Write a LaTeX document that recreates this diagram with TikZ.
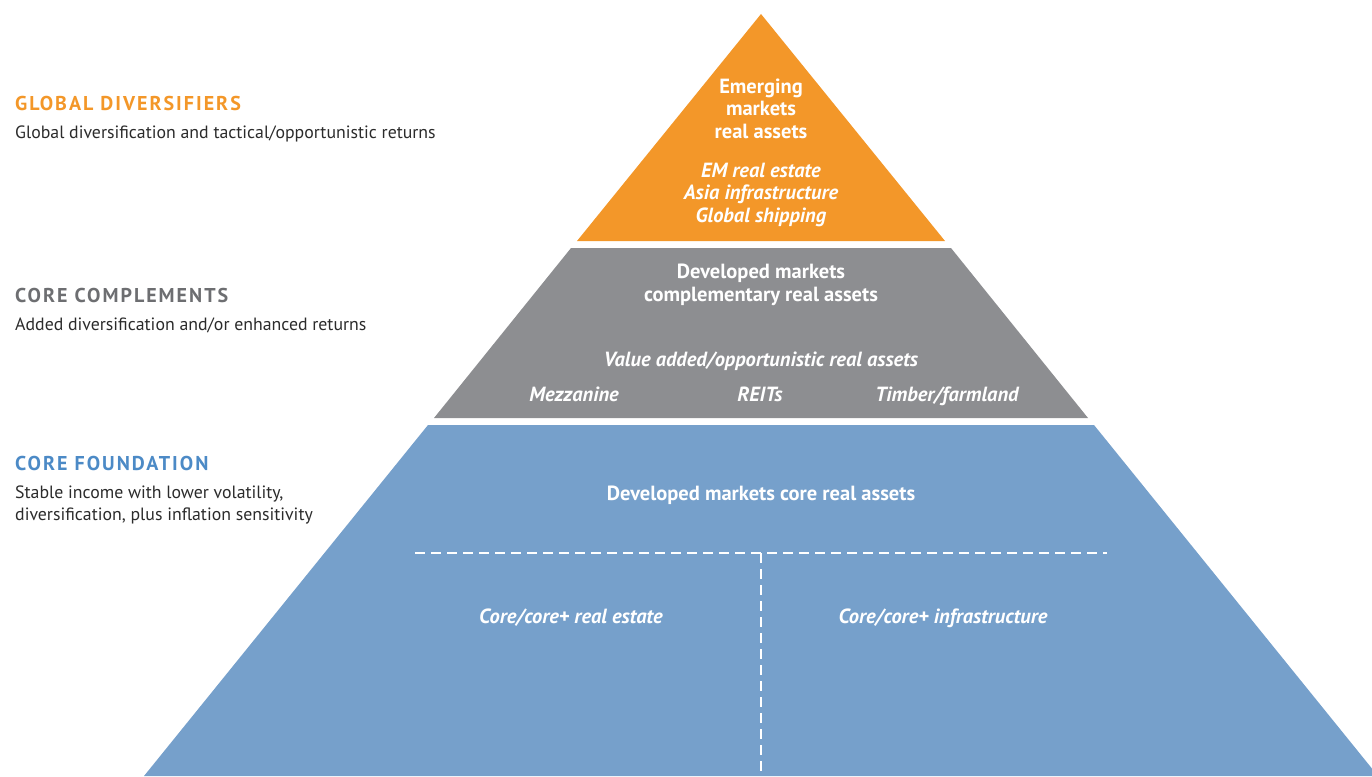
\documentclass[tikz,border=0pt]{standalone}
\usepackage{fontspec}
\setmainfont{PT Sans}
\usepackage{tikz}

\definecolor{emorange}{HTML}{F39729}
\definecolor{ccgray}{HTML}{8D8E91}
\definecolor{cfblue}{HTML}{76A0CB}
\definecolor{ccheadgray}{HTML}{6D6E71}
\definecolor{cfheadblue}{HTML}{4C8AC6}
\definecolor{bodytext}{HTML}{2B2B2B}

\begin{document}
\begin{tikzpicture}[
    x=1pt,y=-1pt,
    tier/.style={anchor=base,text=white,align=center,inner sep=0pt,font=\fontsize{20.5}{22.5}\selectfont\bfseries},
    item/.style={anchor=base,text=white,align=center,inner sep=0pt,font=\fontsize{20.5}{22.5}\selectfont\bfseries\itshape},
    heading/.style={anchor=base west,inner sep=0pt,font=\fontsize{20}{22}\selectfont\bfseries\addfontfeatures{LetterSpace=10}},
    desc/.style={anchor=base west,inner sep=0pt,text=bodytext,align=left,font=\fontsize{17.8}{22}\selectfont},
    divider/.style={white,line width=2pt,dash pattern=on 10pt off 6pt}
    ]
    \useasboundingbox (0,0) rectangle (1372,776);
    % pyramid tiers
    \fill[emorange] (761,14) -- (945,241) -- (577,241) -- cycle;
    \fill[ccgray] (571,248) -- (951,248) -- (1088,418) -- (434,418) -- cycle;
    \fill[cfblue] (428,425) -- (1094,425) -- (1378,776) -- (144,776) -- cycle;
    % left legend (multi-line nodes sit on their last baseline)
    \node[heading,text=emorange] (gdhead) at (15,110) {GLOBAL DIVERSIFIERS};
    \node[desc] (gddesc) at (15,138) {Global diversification and tactical/opportunistic returns};
    \node[heading,text=ccheadgray] (cchead) at (15,302) {CORE COMPLEMENTS};
    \node[desc] (ccdesc) at (15,330) {Added diversification and/or enhanced returns};
    \node[heading,text=cfheadblue] (cfhead) at (15,470) {CORE FOUNDATION};
    \node[desc] (cfdesc) at (15,520) {Stable income with lower volatility,\\diversification, plus inflation sensitivity};
    % global diversifiers
    \node[tier] (emtitle) at (761,138) {Emerging\\markets\\real assets};
    \node[item] (emitems) at (761,222) {EM real estate\\Asia infrastructure\\Global shipping};
    % core complements
    \node[tier] (dmtitle) at (761,301) {Developed markets\\complementary real assets};
    \node[item] (vaitem) at (761,366) {Value added/opportunistic real assets};
    \node[item] (mezz) at (574,401) {Mezzanine};
    \node[item] (reits) at (760,401) {REITs};
    \node[item] (timber) at (947,401) {Timber/farmland};
    % core foundation
    \node[tier] (cftitle) at (761,500) {Developed markets core real assets};
    \node[item] (realestate) at (571,623) {Core/core+ real estate};
    \node[item] (infra) at (943,623) {Core/core+ infrastructure};
    \coordinate (dashl) at (415,553);
    \coordinate (dashr) at (1107,553);
    \coordinate (dasht) at (761,553);
    \coordinate (dashb) at (761,776);
    \draw[divider] (dashl) -- (dashr);
    \draw[divider] (dasht) -- (dashb);
\end{tikzpicture}
\end{document}
